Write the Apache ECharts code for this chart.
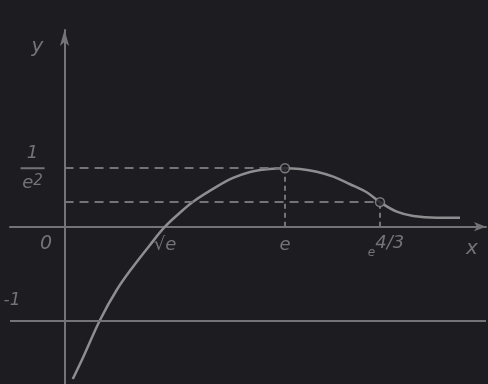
<!DOCTYPE html>
<html>
<head>
<meta charset="utf-8">
<script src="https://cdn.jsdelivr.net/npm/echarts@6/dist/echarts.min.js"></script>
<style>
html, body { margin: 0; padding: 0; background: #1d1c21; }
#chart { width: 488px; height: 384px; }
</style>
</head>
<body>
<div id="chart"></div>
<script>
// curve (schematic units, not to scale)
const curveX = [0.083, 0.190, 0.358, 0.526, 0.691, 0.862, 1.013, 1.195, 1.296, 1.535, 1.699, 1.871, 2.039, 2.223, 2.375, 2.543, 2.710, 2.879, 3.047, 3.181, 3.350, 3.517, 3.753, 3.988];
const curveY = [-1.626, -1.388, -0.996, -0.676, -0.427, -0.195, 0.0, 0.178, 0.267, 0.427, 0.520, 0.584, 0.613, 0.624, 0.616, 0.587, 0.534, 0.453, 0.367, 0.262, 0.160, 0.114, 0.096, 0.096];

const peakPoint = [2.223, 0.624];  // (e, 1/e^2)
const bendPoint = [3.181, 0.262];  // inflection at e^(4/3)
const rootX = 1.013;               // sqrt(e)
const lowLevel = -1;

const xTicks = [rootX, peakPoint[0], bendPoint[0]];
const xTickLabels = ['{t|√e}', '{t|e}', '{s|e}{p|4/3}'];
const yTicks = [peakPoint[1], 0, lowLevel];
const yTickLabels = ['{num|1}\n{bar| }\n{num|e}{sup|2}', '{zero|0}', '{neg|-1}'];

const bg = '#1d1c21';
const ink = '#8e8e90';
const chalk = '#747476';
const font = 'DejaVu Sans';

const W = 488, H = 384;
const grid = { left: 10, right: 2, top: 30, bottom: 0 };
const xRange = [-0.55, 4.25];
const yRange = [-1.68, 2.1];
// shift the axes (line + labels) so they cross at the origin
const xAxisShift = -(0 - yRange[0]) / (yRange[1] - yRange[0]) * (H - grid.top - grid.bottom);
const yAxisShift = -(0 - xRange[0]) / (xRange[1] - xRange[0]) * (W - grid.left - grid.right);

const txt = (size, extra) => Object.assign({
  fontSize: size, fontStyle: 'italic', fontFamily: font, color: chalk, lineHeight: 18
}, extra || {});

const pick = (list, labels, v) => {
  const i = list.findIndex(t => Math.abs(t - v) < 1e-6);
  return i < 0 ? '' : labels[i];
};

const chart = echarts.init(document.getElementById('chart'));
chart.setOption({
  backgroundColor: bg,
  animation: false,
  grid: Object.assign({ outerBoundsMode: 'none', containLabel: false }, grid),
  xAxis: {
    type: 'value',
    min: xRange[0],
    max: xRange[1],
    position: 'bottom',
    offset: xAxisShift,
    splitLine: { show: false },
    axisTick: { show: false },
    axisLine: {
      onZero: false,
      symbol: ['none', 'arrow'],
      symbolSize: [7, 12],
      lineStyle: { color: chalk, width: 2 }
    },
    axisLabel: {
      customValues: xTicks,
      margin: 10,
      formatter: v => pick(xTicks, xTickLabels, v),
      rich: {
        t: txt(18),
        s: txt(12, { padding: [14, 0, 0, 12] }),
        p: txt(18, { padding: [0, 0, 4, 0] })
      }
    },
    name: 'x',
    nameLocation: 'end',
    nameGap: -14,
    nameTextStyle: txt(20, { align: 'center', verticalAlign: 'top', lineHeight: 44 })
  },
  yAxis: {
    type: 'value',
    min: yRange[0],
    max: yRange[1],
    position: 'left',
    offset: yAxisShift,
    splitLine: { show: false },
    axisTick: { show: false },
    axisLine: {
      onZero: false,
      symbol: ['none', 'arrow'],
      symbolSize: [7, 16],
      lineStyle: { color: chalk, width: 2 }
    },
    axisLabel: {
      customValues: yTicks,
      margin: 32,
      align: 'center',
      verticalAlign: 'middle',
      formatter: v => pick(yTicks, yTickLabels, v),
      rich: {
        num: txt(18, { lineHeight: 28 }),
        sup: txt(15, { lineHeight: 28, padding: [0, 0, 4, 0] }),
        bar: { width: 24, height: 2, lineHeight: 2, fontSize: 1, backgroundColor: chalk },
        zero: txt(19, { padding: [34, 0, 0, 27] }),
        neg: txt(17, { padding: [0, 41, 40, 0] })
      }
    },
    name: 'y',
    nameLocation: 'end',
    nameGap: -17,
    nameTextStyle: txt(20, { align: 'center', verticalAlign: 'middle', padding: [0, 54, 0, 0] })
  },
  series: [
    {
      name: 'curve',
      type: 'line',
      smooth: 0.35,
      showSymbol: false,
      silent: true,
      lineStyle: { color: ink, width: 2.5 },
      data: curveX.map((x, i) => [x, curveY[i]]),
      markLine: {
        silent: true,
        symbol: ['none', 'none'],
        label: { show: false },
        lineStyle: { color: chalk, width: 2, type: [9, 6] },
        data: [
          [{ coord: [0, peakPoint[1]] }, { coord: peakPoint }],
          [{ coord: [peakPoint[0], 0] }, { coord: peakPoint, lineStyle: { type: [5, 4] } }],
          [{ coord: [0, bendPoint[1]] }, { coord: bendPoint }],
          [{ coord: [bendPoint[0], 0] }, { coord: bendPoint, lineStyle: { type: [5, 4] } }],
          { yAxis: lowLevel, lineStyle: { type: 'solid', color: chalk, width: 2 } }
        ]
      }
    },
    {
      name: 'points',
      type: 'scatter',
      silent: true,
      symbol: 'circle',
      symbolSize: 9,
      z: 5,
      itemStyle: { color: bg, borderColor: ink, borderWidth: 1.5 },
      data: [peakPoint, bendPoint]
    }
  ]
});
</script>
</body>
</html>
